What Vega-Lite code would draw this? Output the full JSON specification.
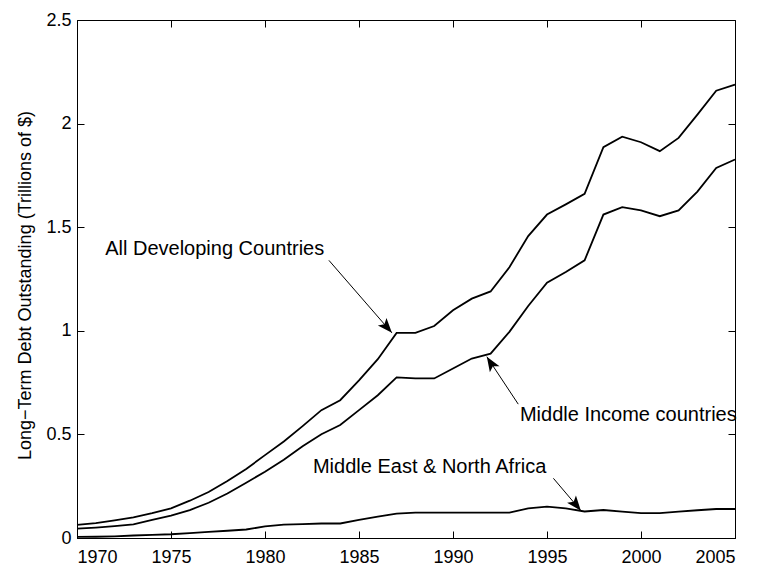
{
  "$schema": "https://vega.github.io/schema/vega-lite/v6.json",
  "autosize": "none",
  "width": 658,
  "height": 518,
  "padding": {"left": 77, "top": 20, "right": 26, "bottom": 28},
  "background": "white",
  "config": {
    "font": "Liberation Sans",
    "view": {"stroke": "black", "strokeWidth": 1},
    "axis": {"grid": false, "domainColor": "black", "tickColor": "black", "labelColor": "black", "titleColor": "black", "labelFont": "Liberation Sans", "titleFont": "Liberation Sans", "labelFontSize": 18, "titleFontSize": 18, "titleFontWeight": "normal", "tickSize": -7, "domainWidth": 1, "tickWidth": 1}
  },
  "resolve": {"axis": {"x": "independent", "y": "independent"}},
  "layer": [
    {
      "data": {"values": [
        {"year": 1970, "series": "All Developing Countries", "debt": 0.063},
        {"year": 1971, "series": "All Developing Countries", "debt": 0.072},
        {"year": 1972, "series": "All Developing Countries", "debt": 0.085},
        {"year": 1973, "series": "All Developing Countries", "debt": 0.1},
        {"year": 1974, "series": "All Developing Countries", "debt": 0.12},
        {"year": 1975, "series": "All Developing Countries", "debt": 0.143},
        {"year": 1976, "series": "All Developing Countries", "debt": 0.18},
        {"year": 1977, "series": "All Developing Countries", "debt": 0.222},
        {"year": 1978, "series": "All Developing Countries", "debt": 0.275},
        {"year": 1979, "series": "All Developing Countries", "debt": 0.333},
        {"year": 1980, "series": "All Developing Countries", "debt": 0.4},
        {"year": 1981, "series": "All Developing Countries", "debt": 0.466},
        {"year": 1982, "series": "All Developing Countries", "debt": 0.54},
        {"year": 1983, "series": "All Developing Countries", "debt": 0.617},
        {"year": 1984, "series": "All Developing Countries", "debt": 0.665},
        {"year": 1985, "series": "All Developing Countries", "debt": 0.761},
        {"year": 1986, "series": "All Developing Countries", "debt": 0.863},
        {"year": 1987, "series": "All Developing Countries", "debt": 0.99},
        {"year": 1988, "series": "All Developing Countries", "debt": 0.99},
        {"year": 1989, "series": "All Developing Countries", "debt": 1.023},
        {"year": 1990, "series": "All Developing Countries", "debt": 1.099},
        {"year": 1991, "series": "All Developing Countries", "debt": 1.155},
        {"year": 1992, "series": "All Developing Countries", "debt": 1.19},
        {"year": 1993, "series": "All Developing Countries", "debt": 1.307},
        {"year": 1994, "series": "All Developing Countries", "debt": 1.457},
        {"year": 1995, "series": "All Developing Countries", "debt": 1.561},
        {"year": 1996, "series": "All Developing Countries", "debt": 1.61},
        {"year": 1997, "series": "All Developing Countries", "debt": 1.661},
        {"year": 1998, "series": "All Developing Countries", "debt": 1.886},
        {"year": 1999, "series": "All Developing Countries", "debt": 1.937},
        {"year": 2000, "series": "All Developing Countries", "debt": 1.91},
        {"year": 2001, "series": "All Developing Countries", "debt": 1.867},
        {"year": 2002, "series": "All Developing Countries", "debt": 1.931},
        {"year": 2003, "series": "All Developing Countries", "debt": 2.043},
        {"year": 2004, "series": "All Developing Countries", "debt": 2.159},
        {"year": 2005, "series": "All Developing Countries", "debt": 2.188},
        {"year": 1970, "series": "Middle Income countries", "debt": 0.045},
        {"year": 1971, "series": "Middle Income countries", "debt": 0.05},
        {"year": 1972, "series": "Middle Income countries", "debt": 0.057},
        {"year": 1973, "series": "Middle Income countries", "debt": 0.066},
        {"year": 1974, "series": "Middle Income countries", "debt": 0.088},
        {"year": 1975, "series": "Middle Income countries", "debt": 0.108},
        {"year": 1976, "series": "Middle Income countries", "debt": 0.135},
        {"year": 1977, "series": "Middle Income countries", "debt": 0.17},
        {"year": 1978, "series": "Middle Income countries", "debt": 0.215},
        {"year": 1979, "series": "Middle Income countries", "debt": 0.267},
        {"year": 1980, "series": "Middle Income countries", "debt": 0.32},
        {"year": 1981, "series": "Middle Income countries", "debt": 0.378},
        {"year": 1982, "series": "Middle Income countries", "debt": 0.443},
        {"year": 1983, "series": "Middle Income countries", "debt": 0.501},
        {"year": 1984, "series": "Middle Income countries", "debt": 0.545},
        {"year": 1985, "series": "Middle Income countries", "debt": 0.617},
        {"year": 1986, "series": "Middle Income countries", "debt": 0.689},
        {"year": 1987, "series": "Middle Income countries", "debt": 0.775},
        {"year": 1988, "series": "Middle Income countries", "debt": 0.77},
        {"year": 1989, "series": "Middle Income countries", "debt": 0.77},
        {"year": 1990, "series": "Middle Income countries", "debt": 0.818},
        {"year": 1991, "series": "Middle Income countries", "debt": 0.866},
        {"year": 1992, "series": "Middle Income countries", "debt": 0.89},
        {"year": 1993, "series": "Middle Income countries", "debt": 0.995},
        {"year": 1994, "series": "Middle Income countries", "debt": 1.12},
        {"year": 1995, "series": "Middle Income countries", "debt": 1.232},
        {"year": 1996, "series": "Middle Income countries", "debt": 1.284},
        {"year": 1997, "series": "Middle Income countries", "debt": 1.34},
        {"year": 1998, "series": "Middle Income countries", "debt": 1.561},
        {"year": 1999, "series": "Middle Income countries", "debt": 1.597},
        {"year": 2000, "series": "Middle Income countries", "debt": 1.581},
        {"year": 2001, "series": "Middle Income countries", "debt": 1.553},
        {"year": 2002, "series": "Middle Income countries", "debt": 1.581},
        {"year": 2003, "series": "Middle Income countries", "debt": 1.672},
        {"year": 2004, "series": "Middle Income countries", "debt": 1.786},
        {"year": 2005, "series": "Middle Income countries", "debt": 1.827},
        {"year": 1970, "series": "Middle East & North Africa", "debt": 0.005},
        {"year": 1971, "series": "Middle East & North Africa", "debt": 0.006},
        {"year": 1972, "series": "Middle East & North Africa", "debt": 0.008},
        {"year": 1973, "series": "Middle East & North Africa", "debt": 0.012},
        {"year": 1974, "series": "Middle East & North Africa", "debt": 0.015},
        {"year": 1975, "series": "Middle East & North Africa", "debt": 0.018},
        {"year": 1976, "series": "Middle East & North Africa", "debt": 0.024},
        {"year": 1977, "series": "Middle East & North Africa", "debt": 0.03},
        {"year": 1978, "series": "Middle East & North Africa", "debt": 0.035},
        {"year": 1979, "series": "Middle East & North Africa", "debt": 0.041},
        {"year": 1980, "series": "Middle East & North Africa", "debt": 0.056},
        {"year": 1981, "series": "Middle East & North Africa", "debt": 0.065},
        {"year": 1982, "series": "Middle East & North Africa", "debt": 0.067},
        {"year": 1983, "series": "Middle East & North Africa", "debt": 0.07},
        {"year": 1984, "series": "Middle East & North Africa", "debt": 0.07},
        {"year": 1985, "series": "Middle East & North Africa", "debt": 0.087},
        {"year": 1986, "series": "Middle East & North Africa", "debt": 0.103},
        {"year": 1987, "series": "Middle East & North Africa", "debt": 0.118},
        {"year": 1988, "series": "Middle East & North Africa", "debt": 0.122},
        {"year": 1989, "series": "Middle East & North Africa", "debt": 0.122},
        {"year": 1990, "series": "Middle East & North Africa", "debt": 0.122},
        {"year": 1991, "series": "Middle East & North Africa", "debt": 0.122},
        {"year": 1992, "series": "Middle East & North Africa", "debt": 0.122},
        {"year": 1993, "series": "Middle East & North Africa", "debt": 0.122},
        {"year": 1994, "series": "Middle East & North Africa", "debt": 0.143},
        {"year": 1995, "series": "Middle East & North Africa", "debt": 0.151},
        {"year": 1996, "series": "Middle East & North Africa", "debt": 0.143},
        {"year": 1997, "series": "Middle East & North Africa", "debt": 0.128},
        {"year": 1998, "series": "Middle East & North Africa", "debt": 0.135},
        {"year": 1999, "series": "Middle East & North Africa", "debt": 0.127},
        {"year": 2000, "series": "Middle East & North Africa", "debt": 0.12},
        {"year": 2001, "series": "Middle East & North Africa", "debt": 0.12},
        {"year": 2002, "series": "Middle East & North Africa", "debt": 0.127},
        {"year": 2003, "series": "Middle East & North Africa", "debt": 0.134},
        {"year": 2004, "series": "Middle East & North Africa", "debt": 0.14},
        {"year": 2005, "series": "Middle East & North Africa", "debt": 0.14}
      ]},
      "mark": {"type": "line", "color": "black", "strokeWidth": 1.8},
      "encoding": {
        "x": {"field": "year", "type": "quantitative", "scale": {"domain": [1970, 2005], "nice": false, "zero": false},
              "axis": {"orient": "bottom", "values": [1970, 1975, 1980, 1985, 1990, 1995, 2000, 2005], "format": "d", "title": null, "labelPadding": 17}},
        "y": {"field": "debt", "type": "quantitative", "scale": {"domain": [0, 2.5], "nice": false, "zero": true},
              "axis": {"orient": "left", "values": [0, 0.5, 1, 1.5, 2, 2.5], "format": "~g", "title": "Long−Term Debt Outstanding (Trillions of $)", "labelPadding": 13, "titleX": -52, "titleY": 265, "titleAngle": -90, "titleAlign": "center", "titleBaseline": "middle"}},
        "detail": {"field": "series", "type": "nominal"}
      }
    },
    {
      "data": {"values": [{"a": 0}]},
      "mark": {"type": "point", "opacity": 0},
      "encoding": {
        "x": {"datum": 1970, "type": "quantitative", "scale": {"domain": [1970, 2005], "nice": false, "zero": false},
              "axis": {"orient": "top", "values": [1970, 1975, 1980, 1985, 1990, 1995, 2000, 2005], "labels": false, "title": null, "domain": false}},
        "y": {"datum": 0, "type": "quantitative", "scale": {"domain": [0, 2.5], "nice": false},
              "axis": {"orient": "right", "values": [0, 0.5, 1, 1.5, 2, 2.5], "labels": false, "title": null, "domain": false}}
      }
    },
    {
      "data": {"values": [
        {"x1": 1983.4, "y1": 1.34, "x2": 1986.75, "y2": 0.99},
        {"x1": 1993.47, "y1": 0.646, "x2": 1991.8, "y2": 0.875},
        {"x1": 1995.34, "y1": 0.288, "x2": 1996.8, "y2": 0.132}
      ]},
      "mark": {"type": "rule", "color": "black", "strokeWidth": 1},
      "encoding": {
        "x": {"field": "x1", "type": "quantitative", "axis": null},
        "y": {"field": "y1", "type": "quantitative", "axis": null},
        "x2": {"field": "x2"},
        "y2": {"field": "y2"}
      }
    },
    {
      "data": {"values": [{"x": 1986.75, "y": 0.99}]},
      "mark": {"type": "point", "shape": "M0,0 L-1,2.6 L0,2 L1,2.6 Z", "filled": true, "color": "black", "opacity": 1, "size": 130, "angle": 139},
      "encoding": {
        "x": {"field": "x", "type": "quantitative", "axis": null},
        "y": {"field": "y", "type": "quantitative", "axis": null}
      }
    },
    {
      "data": {"values": [{"x": 1991.8, "y": 0.875}]},
      "mark": {"type": "point", "shape": "M0,0 L-1,2.6 L0,2 L1,2.6 Z", "filled": true, "color": "black", "opacity": 1, "size": 130, "angle": 328},
      "encoding": {
        "x": {"field": "x", "type": "quantitative", "axis": null},
        "y": {"field": "y", "type": "quantitative", "axis": null}
      }
    },
    {
      "data": {"values": [{"x": 1996.8, "y": 0.132}]},
      "mark": {"type": "point", "shape": "M0,0 L-1,2.6 L0,2 L1,2.6 Z", "filled": true, "color": "black", "opacity": 1, "size": 130, "angle": 141},
      "encoding": {
        "x": {"field": "x", "type": "quantitative", "axis": null},
        "y": {"field": "y", "type": "quantitative", "axis": null}
      }
    },
    {
      "data": {"values": [
        {"label": "All Developing Countries", "x": 1971.5, "y": 1.394},
        {"label": "Middle Income countries", "x": 1993.56, "y": 0.596},
        {"label": "Middle East & North Africa", "x": 1982.55, "y": 0.342}
      ]},
      "mark": {"type": "text", "align": "left", "baseline": "middle", "fontSize": 20, "font": "Liberation Sans", "color": "black"},
      "encoding": {
        "x": {"field": "x", "type": "quantitative", "axis": null},
        "y": {"field": "y", "type": "quantitative", "axis": null},
        "text": {"field": "label"}
      }
    }
  ]
}
